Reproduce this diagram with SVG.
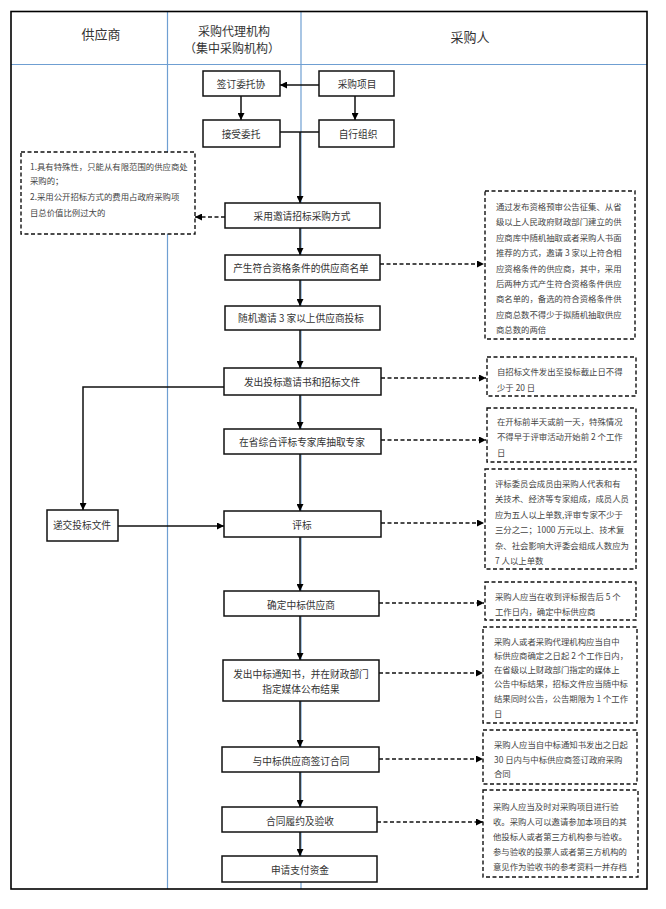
<svg xmlns="http://www.w3.org/2000/svg" width="666" height="909" viewBox="0 0 666 909">
<defs>
<marker id="ah" viewBox="0 0 10 10" refX="10" refY="5" markerWidth="7" markerHeight="7" markerUnits="userSpaceOnUse" orient="auto">
<path d="M0,0 L10,5 L0,10 z" fill="#000"/>
</marker>
<style>
.frame{fill:none;stroke:#000;stroke-width:1.6}
.lane{stroke:#6f9fd2;stroke-width:1.2;fill:none}
.box{fill:#fff;stroke:#111;stroke-width:1.5}
.note{fill:#fff;stroke:#111;stroke-width:1.4;stroke-dasharray:4 2.5}
.hd{font-family:"Noto Sans CJK SC","Noto Sans",sans-serif;fill:#333;text-anchor:middle;dominant-baseline:central}
.nt{font-family:"Noto Sans CJK SC","Noto Sans",sans-serif;font-size:9.7px;fill:#333;text-anchor:middle;dominant-baseline:central}
.tx{font-family:"Noto Sans CJK SC","Noto Sans",sans-serif;font-size:8.4px;fill:#444;dominant-baseline:central}
.ln{fill:none;stroke:#111;stroke-width:1.5;marker-end:url(#ah)}
.pl{fill:none;stroke:#111;stroke-width:1.5}
.dl{fill:none;stroke:#111;stroke-width:1.4;stroke-dasharray:4 2.5;marker-end:url(#ah)}
</style>
</defs>
<rect width="666" height="909" fill="#fff"/>
<g id="lanes">
<line class="lane" x1="11" y1="64.5" x2="647" y2="64.5"/>
<line class="lane" x1="167.5" y1="11" x2="167.5" y2="889"/>
<line class="lane" x1="301" y1="11" x2="301" y2="889"/>
<rect class="frame" x="11" y="11.5" width="636" height="877.5"/>
<text class="hd" x="101" y="33" font-size="13">供应商</text>
<text class="hd" x="234" y="30" font-size="12">采购代理机构</text>
<text class="hd" x="232" y="47" font-size="12">（集中采购机构）</text>
<text class="hd" x="470" y="36" font-size="13">采购人</text>
</g>
<g id="connectors">
<line class="ln" x1="319" y1="85" x2="280" y2="85"/>
<line class="ln" x1="241" y1="96" x2="241" y2="120"/>
<line class="ln" x1="355" y1="96" x2="355" y2="120"/>
<line class="pl" x1="280" y1="132" x2="319" y2="132"/>
<line class="ln" x1="300" y1="132" x2="300" y2="203"/>
<line class="dl" x1="225" y1="217" x2="195" y2="217"/>
<line class="ln" x1="300" y1="228" x2="300" y2="255"/>
<line class="dl" x1="380" y1="264" x2="484" y2="264"/>
<line class="ln" x1="300" y1="280" x2="300" y2="306"/>
<line class="ln" x1="300" y1="330" x2="300" y2="368"/>
<line class="dl" x1="381" y1="378" x2="486" y2="378"/>
<polyline class="ln" points="224,387 83,387 83,510"/>
<line class="ln" x1="300" y1="395" x2="300" y2="429"/>
<line class="dl" x1="381" y1="440" x2="486" y2="440"/>
<line class="ln" x1="300" y1="454" x2="300" y2="511"/>
<line class="ln" x1="118" y1="526" x2="224" y2="526"/>
<line class="dl" x1="381" y1="523" x2="484" y2="523"/>
<line class="ln" x1="300" y1="537" x2="300" y2="591"/>
<line class="dl" x1="379" y1="603" x2="484" y2="603"/>
<line class="ln" x1="300" y1="616" x2="300" y2="660"/>
<line class="dl" x1="379" y1="673" x2="483" y2="673"/>
<line class="ln" x1="300" y1="701" x2="300" y2="747"/>
<line class="dl" x1="379" y1="759" x2="483" y2="759"/>
<line class="ln" x1="300" y1="772" x2="300" y2="807"/>
<line class="dl" x1="377" y1="822" x2="483" y2="822"/>
<line class="ln" x1="300" y1="832" x2="300" y2="856"/>
</g>
<g id="n_sign"><rect class="box" x="203" y="71" width="77" height="25"/><text class="nt" x="241" y="84">签订委托协</text></g>
<g id="n_project"><rect class="box" x="319" y="71" width="75" height="25"/><text class="nt" x="357" y="84">采购项目</text></g>
<g id="n_accept"><rect class="box" x="203" y="120" width="77" height="27"/><text class="nt" x="241" y="134">接受委托</text></g>
<g id="n_self"><rect class="box" x="319" y="120" width="75" height="27"/><text class="nt" x="358" y="134">自行组织</text></g>
<g id="n_invite"><rect class="box" x="225" y="203" width="155" height="25"/><text class="nt" x="302" y="216">采用邀请招标采购方式</text></g>
<g id="n_list"><rect class="box" x="225" y="255" width="155" height="25"/><text class="nt" x="301" y="268">产生符合资格条件的供应商名单</text></g>
<g id="n_random"><rect class="box" x="225" y="306" width="155" height="24"/><text class="nt" x="301" y="318">随机邀请 3 家以上供应商投标</text></g>
<g id="n_issue"><rect class="box" x="224" y="368" width="157" height="27"/><text class="nt" x="302" y="382">发出投标邀请书和招标文件</text></g>
<g id="n_expert"><rect class="box" x="224" y="429" width="157" height="25"/><text class="nt" x="302" y="442">在省综合评标专家库抽取专家</text></g>
<g id="n_submit"><rect class="box" x="47" y="510" width="71" height="31"/><text class="nt" x="82" y="525" font-size="9px">递交投标文件</text></g>
<g id="n_eval"><rect class="box" x="224" y="511" width="157" height="26"/><text class="nt" x="302" y="525">评标</text></g>
<g id="n_decide"><rect class="box" x="224" y="591" width="155" height="25"/><text class="nt" x="301" y="605">确定中标供应商</text></g>
<g id="n_notice"><rect class="box" x="223" y="660" width="156" height="41"/><text class="nt" x="301" y="674">发出中标通知书，并在财政部门</text><text class="nt" x="301" y="689">指定媒体公布结果</text></g>
<g id="n_contract"><rect class="box" x="222" y="747" width="157" height="25"/><text class="nt" x="301" y="761">与中标供应商签订合同</text></g>
<g id="n_perform"><rect class="box" x="222" y="807" width="155" height="25"/><text class="nt" x="300" y="821">合同履约及验收</text></g>
<g id="n_pay"><rect class="box" x="222" y="856" width="155" height="26"/><text class="nt" x="300" y="870">申请支付资金</text></g>
<g id="note_left"><rect class="note" x="21" y="152" width="174" height="82"/>
<text class="tx" x="30" y="166">1.具有特殊性，只能从有限范围的供应商处</text>
<text class="tx" x="30" y="180">采购的；</text>
<text class="tx" x="30" y="196">2.采用公开招标方式的费用占政府采购项</text>
<text class="tx" x="30" y="212">目总价值比例过大的</text></g>
<g id="note1"><rect class="note" x="485" y="191" width="150" height="148"/>
<text class="tx" x="496" y="206">通过发布资格预审公告征集、从省</text>
<text class="tx" x="496" y="221">级以上人民政府财政部门建立的供</text>
<text class="tx" x="496" y="237">应商库中随机抽取或者采购人书面</text>
<text class="tx" x="496" y="252">推荐的方式，邀请 3 家以上符合相</text>
<text class="tx" x="496" y="268">应资格条件的供应商，其中，采用</text>
<text class="tx" x="496" y="283">后两种方式产生符合资格条件供应</text>
<text class="tx" x="496" y="298">商名单的，备选的符合资格条件供</text>
<text class="tx" x="496" y="314">应商总数不得少于拟随机抽取供应</text>
<text class="tx" x="496" y="329">商总数的两倍</text></g>
<g id="note2"><rect class="note" x="487" y="357" width="149" height="39"/>
<text class="tx" x="497" y="371">自招标文件发出至投标截止日不得</text>
<text class="tx" x="497" y="387">少于 20 日</text></g>
<g id="note3"><rect class="note" x="487" y="408" width="149" height="54"/>
<text class="tx" x="497" y="421">在开标前半天或前一天，特殊情况</text>
<text class="tx" x="497" y="436">不得早于评审活动开始前 2 个工作</text>
<text class="tx" x="497" y="452">日</text></g>
<g id="note4"><rect class="note" x="485" y="469" width="151" height="100"/>
<text class="tx" x="495" y="483">评标委员会成员由采购人代表和有</text>
<text class="tx" x="495" y="498">关技术、经济等专家组成，成员人员</text>
<text class="tx" x="495" y="514">应为五人以上单数,评审专家不少于</text>
<text class="tx" x="495" y="529">三分之二；1000 万元以上、技术复</text>
<text class="tx" x="495" y="545">杂、社会影响大评委会组成人数应为</text>
<text class="tx" x="495" y="560">7 人以上单数</text></g>
<g id="note5"><rect class="note" x="485" y="582" width="151" height="38"/>
<text class="tx" x="495" y="596">采购人应当在收到评标报告后 5 个</text>
<text class="tx" x="495" y="611">工作日内，确定中标供应商</text></g>
<g id="note6"><rect class="note" x="483" y="627" width="154" height="96"/>
<text class="tx" x="494" y="641">采购人或者采购代理机构应当自中</text>
<text class="tx" x="494" y="655">标供应商确定之日起 2 个工作日内，</text>
<text class="tx" x="494" y="669">在省级以上财政部门指定的媒体上</text>
<text class="tx" x="494" y="683">公告中标结果，招标文件应当随中标</text>
<text class="tx" x="494" y="698">结果同时公告，公告期限为 1 个工作</text>
<text class="tx" x="494" y="713">日</text></g>
<g id="note7"><rect class="note" x="483" y="730" width="154" height="54"/>
<text class="tx" x="494" y="744">采购人应当自中标通知书发出之日起</text>
<text class="tx" x="494" y="759">30 日内与中标供应商签订政府采购</text>
<text class="tx" x="494" y="773">合同</text></g>
<g id="note8"><rect class="note" x="483" y="790" width="155" height="87"/>
<text class="tx" x="493" y="806">采购人应当及时对采购项目进行验</text>
<text class="tx" x="493" y="821">收。采购人可以邀请参加本项目的其</text>
<text class="tx" x="493" y="836">他投标人或者第三方机构参与验收。</text>
<text class="tx" x="493" y="851">参与验收的投票人或者第三方机构的</text>
<text class="tx" x="493" y="866">意见作为验收书的参考资料一并存档</text></g>
</svg>
